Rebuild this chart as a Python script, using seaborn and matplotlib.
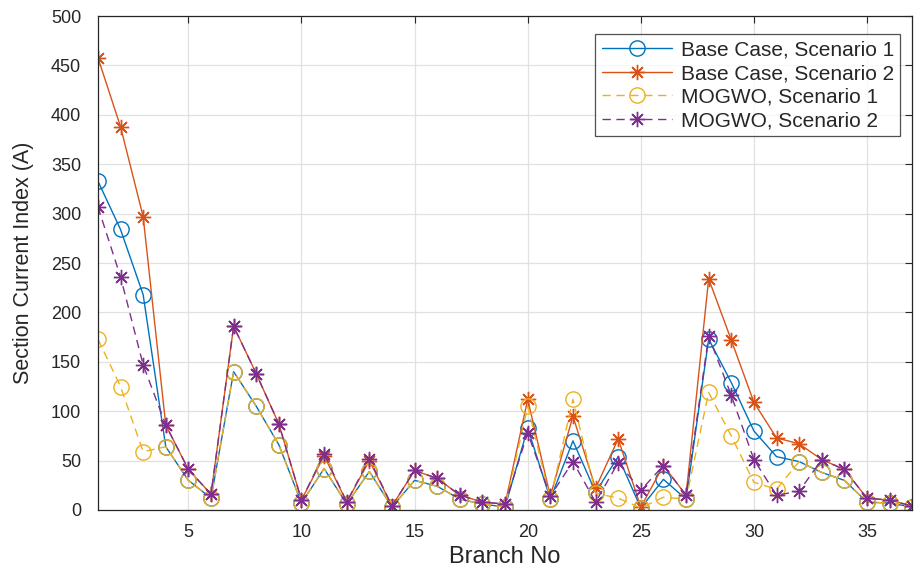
import numpy as np
import pandas as pd
import matplotlib
matplotlib.use('Agg')
import matplotlib.pyplot as plt
import seaborn as sns

# ---- data ----
branch = list(range(1, 38))

base_s1 = [333, 284, 218, 64, 30, 12, 140, 105, 66, 7, 42, 6, 39, 3, 30, 24, 11, 6, 3,
           83, 11, 70, 18, 54, 2, 31, 11, 173, 129, 80, 54, 49, 38, 30, 8, 7, 3]
base_s2 = [458, 388, 297, 86, 41, 16, 186, 138, 87, 10, 55, 8, 50, 4, 40, 32, 15, 8, 6,
           112, 14, 95, 22, 72, 3, 45, 15, 234, 172, 109, 73, 67, 51, 41, 12, 10, 4]
mogwo_s1 = [173, 125, 59, 64, 30, 12, 140, 105, 66, 7, 42, 6, 39, 3, 30, 24, 11, 6, 3,
            105, 11, 112, 17, 12, 2, 13, 11, 119, 75, 28, 21, 49, 38, 30, 8, 7, 3]
mogwo_s2 = [307, 236, 147, 86, 41, 16, 186, 138, 87, 10, 57, 8, 52, 4, 40, 32, 15, 8, 6,
            78, 14, 49, 8, 48, 20, 45, 15, 176, 116, 51, 15, 19, 51, 41, 12, 10, 4]

labels = ['Base Case, Scenario 1', 'Base Case, Scenario 2',
          'MOGWO, Scenario 1', 'MOGWO, Scenario 2']
colors = ['#0072BD', '#D95319', '#EDB120', '#7E2F8E']

sns.set_style('white')
plt.rcParams['font.family'] = ['Liberation Sans', 'DejaVu Sans']

fig = plt.figure(figsize=(9.15, 5.74), dpi=100)
ax = fig.add_axes([0.107, 0.1115, 0.89, 0.8605])

star = (8, 2, 0)
series = [base_s1, base_s2, mogwo_s1, mogwo_s2]
markers = ['o', star, 'o', star]
styles = ['-', '-', '--', '--']

for vals, lab, col, mk, ls in zip(series, labels, colors, markers, styles):
    df = pd.DataFrame({'Branch': branch, 'Value': vals})
    sns.lineplot(data=df, x='Branch', y='Value', ax=ax, color=col, label=lab,
                 marker=mk, markersize=11, markerfacecolor='none',
                 markeredgecolor=col, markeredgewidth=1.0,
                 linewidth=1.0, linestyle=ls)
    if ls == '--':
        ax.lines[-1].set_dashes((6, 4))

ax.set_xlim(1, 37)
ax.set_ylim(0, 500)
ax.set_xticks(np.arange(5, 36, 5))
ax.set_yticks(np.arange(0, 501, 50))
ax.grid(True, color='#e1e1e1', linewidth=0.9)
ax.set_axisbelow(True)
ax.tick_params(direction='in', length=5, width=0.8, colors='#262626',
               labelsize=13, top=True, right=True)
ax.tick_params(axis='y', pad=12)
ax.tick_params(axis='x', pad=10)
for sp in ax.spines.values():
    sp.set_color('#262626')
    sp.set_linewidth(0.9)

ax.set_xlabel('Branch No', fontsize=17, color='#262626', labelpad=4)
ax.set_ylabel('Section Current Index (A)', fontsize=15.5, color='#262626',
              labelpad=12)

leg = ax.legend(loc='upper right', bbox_to_anchor=(0.993, 0.976), fontsize=15,
                frameon=True, fancybox=False, edgecolor='#262626',
                handlelength=3.4, borderpad=0.3, labelspacing=0.22,
                handletextpad=0.4, borderaxespad=0.3)
leg.get_frame().set_linewidth(0.9)

plt.savefig('out.png', dpi=100)
